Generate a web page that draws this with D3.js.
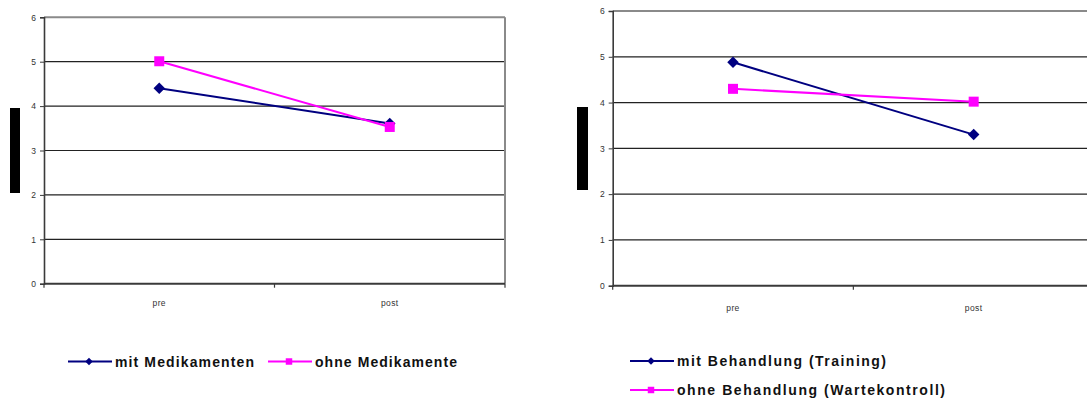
<!DOCTYPE html>
<html>
<head>
<meta charset="utf-8">
<script src="https://cdn.jsdelivr.net/npm/d3@7"></script>
<style>
  html, body { margin: 0; padding: 0; background: #fff; }
  svg { display: block; }
  text { font-family: "Liberation Sans", Arial, sans-serif; }
</style>
</head>
<body>
<svg id="chart" width="1087" height="399"></svg>
<script>
// Shared categories and y-axis ticks
const categories = ["pre", "post"];
const yTicks = [0, 1, 2, 3, 4, 5, 6];

// Left panel: medication
const leftSeriesNames = ["mit Medikamenten", "ohne Medikamente"];
const leftMit = [4.4, 3.61];
const leftOhne = [5.01, 3.53];

// Right panel: treatment
const rightSeriesNames = ["mit Behandlung (Training)", "ohne Behandlung (Wartekontroll)"];
const rightMit = [4.88, 3.3];
const rightOhne = [4.3, 4.02];

const NAVY = "#000080";
const MAGENTA = "#ff00ff";

const svg = d3.select("#chart");

// diamond = square turned by 45 degrees
function marker(type, size) {
  return { path: d3.symbol().type(d3.symbolSquare).size(size)(), rot: type === "diamond" ? 45 : 0 };
}

function drawPanel(cfg) {
  const g = svg.append("g");
  const x = d3.scaleBand().domain(categories).range([cfg.x0, cfg.x1]);
  const y = d3.scaleLinear().domain([0, 6]).range([cfg.yBottom, cfg.yTop]);

  // horizontal gridlines (1..5)
  g.append("g").selectAll("line").data(yTicks.filter(t => t > 0 && t < 6)).join("line")
    .attr("x1", cfg.x0).attr("x2", cfg.x1)
    .attr("y1", d => y(d)).attr("y2", d => y(d))
    .attr("stroke", "#222").attr("stroke-width", 1.2);

  // plot-area border top and right
  g.append("line").attr("x1", cfg.x0).attr("x2", cfg.x1)
    .attr("y1", y(6)).attr("y2", y(6))
    .attr("stroke", "#8a8a8a").attr("stroke-width", 2);
  g.append("line").attr("x1", cfg.x1).attr("x2", cfg.x1)
    .attr("y1", y(6)).attr("y2", y(0))
    .attr("stroke", "#8a8a8a").attr("stroke-width", 2);

  // y axis
  const yAxis = d3.axisLeft(y).tickValues(yTicks).tickSize(4).tickPadding(4).tickFormat(d3.format("d"));
  const ya = g.append("g").attr("transform", `translate(${cfg.x0},0)`).call(yAxis);
  ya.select(".domain").attr("stroke", "#3a3a3a").attr("stroke-width", 1.6);
  ya.selectAll(".tick line").attr("stroke", "#3a3a3a");
  ya.selectAll(".tick text").attr("font-size", 8.5).attr("fill", "#333");

  // x axis: ticks sit on category boundaries
  const bounds = [cfg.x0, cfg.x0 + x.bandwidth(), cfg.x1];
  const xa = g.append("g");
  xa.append("line").attr("x1", cfg.x0).attr("x2", cfg.x1)
    .attr("y1", y(0)).attr("y2", y(0))
    .attr("stroke", "#3a3a3a").attr("stroke-width", 2);
  xa.selectAll("line.tk").data(bounds).join("line").attr("class", "tk")
    .attr("x1", d => d).attr("x2", d => d)
    .attr("y1", y(0)).attr("y2", y(0) + 4)
    .attr("stroke", "#3a3a3a").attr("stroke-width", 1.2);
  xa.selectAll("text").data(categories).join("text")
    .attr("x", d => x(d) + x.bandwidth() / 2)
    .attr("y", cfg.catY)
    .attr("text-anchor", "middle")
    .attr("font-size", 8.5).attr("fill", "#333")
    .attr("letter-spacing", 0.4)
    .text(d => d);

  // y-axis title bar (solid block)
  g.append("rect").attr("x", cfg.barX).attr("y", cfg.barY)
    .attr("width", cfg.barW).attr("height", cfg.barH).attr("fill", "#000");

  const line = d3.line().x((d, i) => x(categories[i]) + x.bandwidth() / 2).y(d => y(d));
  const series = [
    { values: cfg.mit, color: NAVY, type: "diamond", size: 66, lsize: 28 },
    { values: cfg.ohne, color: MAGENTA, type: "square", size: 100, lsize: 42 }
  ];
  series.forEach(s => {
    g.append("path").datum(s.values).attr("d", line)
      .attr("fill", "none").attr("stroke", s.color).attr("stroke-width", 2);
    const m = marker(s.type, s.size);
    g.selectAll(null).data(s.values).join("path")
      .attr("transform", (d, i) => `translate(${x(categories[i]) + x.bandwidth() / 2},${y(d)}) rotate(${m.rot})`)
      .attr("d", m.path)
      .attr("fill", s.color);
  });

  // legend
  cfg.legend.forEach((item, i) => {
    const s = series[i];
    const lg = g.append("g").attr("transform", `translate(${item.x},${item.y})`);
    lg.append("line").attr("x1", 0).attr("x2", 44).attr("y1", 0).attr("y2", 0)
      .attr("stroke", s.color).attr("stroke-width", 2);
    const m = marker(s.type, s.lsize);
    lg.append("path").attr("transform", `translate(21,0) rotate(${m.rot})`)
      .attr("d", m.path)
      .attr("fill", s.color);
    lg.append("text").attr("x", 47).attr("y", 5)
      .attr("font-size", 14).attr("font-weight", "bold").attr("fill", "#111")
      .attr("textLength", item.w).attr("lengthAdjust", "spacing")
      .text(cfg.names[i]);
  });
}

drawPanel({
  x0: 44, x1: 505, yTop: 17.3, yBottom: 283.7, catY: 306,
  barX: 10, barY: 108, barW: 10, barH: 85,
  mit: leftMit, ohne: leftOhne, names: leftSeriesNames,
  legend: [{ x: 68, y: 361.5, w: 139 }, { x: 268, y: 361.5, w: 142 }]
});

drawPanel({
  x0: 612.7, x1: 1094, yTop: 11, yBottom: 285.7, catY: 311,
  barX: 577, barY: 107, barW: 11, barH: 83,
  mit: rightMit, ohne: rightOhne, names: rightSeriesNames,
  legend: [{ x: 630, y: 361, w: 209 }, { x: 630, y: 390, w: 268 }]
});
</script>
</body>
</html>
